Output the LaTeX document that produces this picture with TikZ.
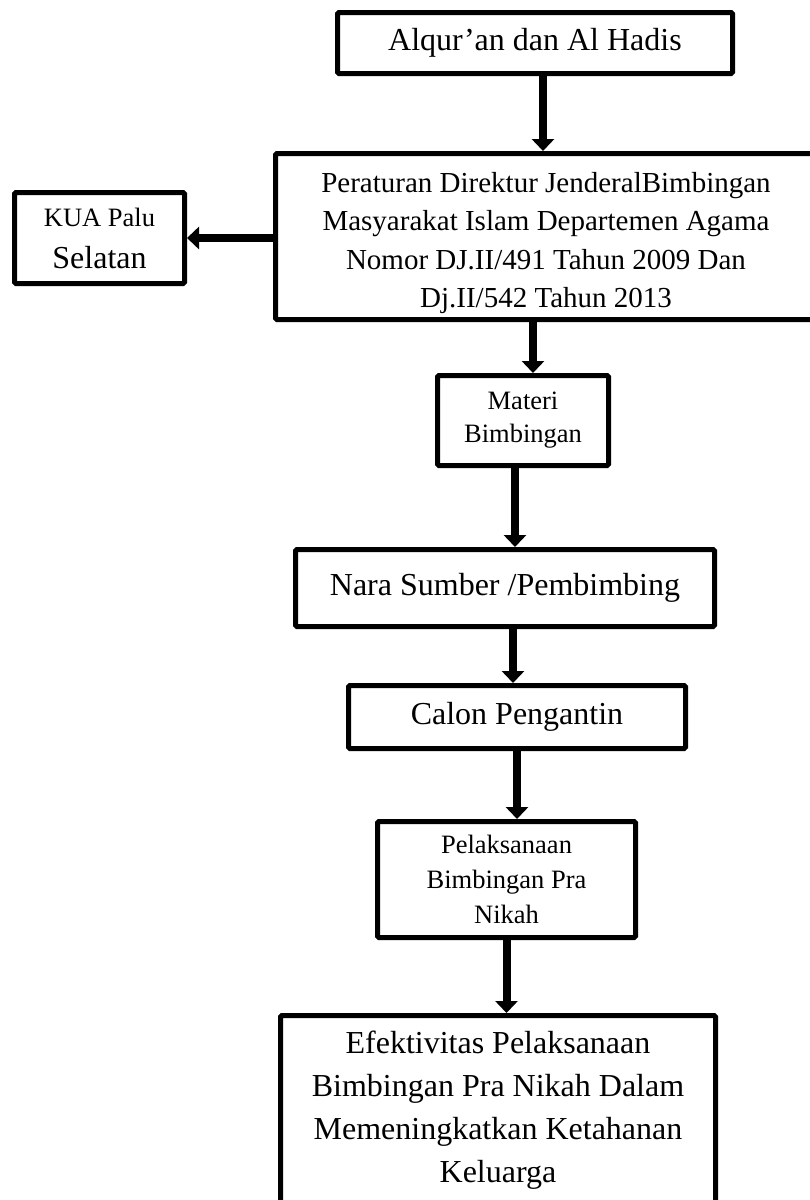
\documentclass[tikz,border=0pt]{standalone}
\usepackage{fontspec}
\setmainfont{Liberation Serif}
\usetikzlibrary{arrows.meta}
\newcommand{\hurufbesar}{\fontsize{32}{43}\selectfont}
\newcommand{\hurufsedang}{\fontsize{29}{38.3}\selectfont}
\newcommand{\hurufkecil}{\fontsize{26.5}{35}\selectfont}
\tikzset{kotak/.style={draw,line width=5pt,rounded corners=1.5pt,align=center,inner sep=0pt},
    panah/.style={line width=8pt,-{Triangle[width=22pt,length=12pt]}}}

\begin{document}
\begin{tikzpicture}[x=1pt,y=-1pt]
      \useasboundingbox (0,0) rectangle (810,1200);
      \node[kotak,font=\hurufbesar,minimum width=395,minimum height=61] (alquran) at (535,43) {Alqur’an dan Al Hadis};
      \node[kotak,font=\hurufsedang,minimum width=541,minimum height=166] (perdirjen) at (546,236.5) {\rule{0pt}{33pt}Peraturan Direktur JenderalBimbingan\\ Masyarakat Islam Departemen Agama\\ Nomor DJ.II/491 Tahun 2009 Dan\\ Dj.II/542 Tahun 2013};
      \node[kotak,font=\hurufbesar,minimum width=170,minimum height=91] (kua) at (99.5,238) {{\hurufkecil KUA Palu}\\[-1pt] Selatan};
      \node[kotak,font=\hurufkecil,minimum width=171,minimum height=90] (materi) at (523,420.5) {Materi\\[-2pt] Bimbingan};
      \node[kotak,font=\hurufbesar,minimum width=419,minimum height=77] (nara) at (505,588) {Nara Sumber /Pembimbing};
      \node[kotak,font=\hurufbesar,minimum width=337,minimum height=63] (calon) at (517,717) {Calon Pengantin};
      \node[kotak,font=\hurufkecil,minimum width=258,minimum height=116] (pelaksanaan) at (506.5,879.5) {Pelaksanaan\\ Bimbingan Pra\\ Nikah};
      \node[kotak,font=\hurufbesar,minimum width=435,minimum height=189] (efektivitas) at (498,1110) {Efektivitas Pelaksanaan\\ Bimbingan Pra Nikah Dalam\\ Memeningkatkan Ketahanan\\ Keluarga};
      % panah alur
      \draw[panah] ([xshift=8pt]alquran.south) -- ([xshift=8pt]alquran.south |- perdirjen.north);
      \draw[panah] (perdirjen.west |- kua.east) -- (kua.east);
      \draw[panah] ([xshift=10pt]materi.north |- perdirjen.south) -- ([xshift=10pt]materi.north);
      \draw[panah] ([xshift=-8pt]materi.south) -- ([xshift=-8pt]materi.south |- nara.north);
      \draw[panah] ([xshift=8pt]nara.south) -- ([xshift=8pt]nara.south |- calon.north);
      \draw[panah] (calon.south) -- (calon.south |- pelaksanaan.north);
      \draw[panah] (pelaksanaan.south) -- (pelaksanaan.south |- efektivitas.north);
\end{tikzpicture}
\end{document}
